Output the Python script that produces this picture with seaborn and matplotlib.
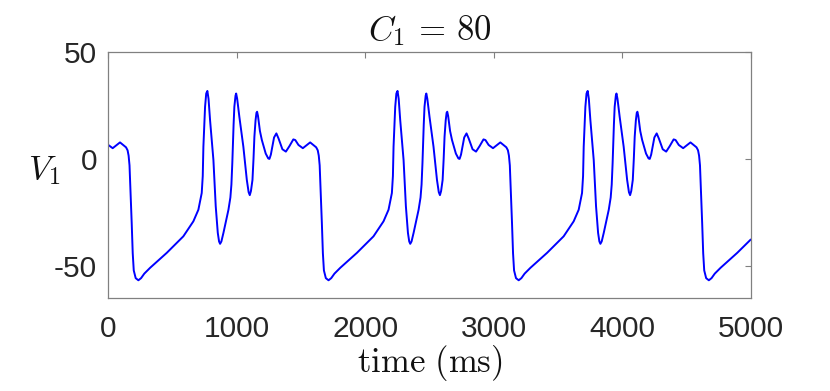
import numpy as np
import pandas as pd
import matplotlib
matplotlib.use('Agg')
import matplotlib.pyplot as plt
import seaborn as sns

# --------------------
# Data read off the picture (one burst cycle, repeated at the observed onsets)
# --------------------
cycle_phase = [0, 34, 91, 138, 150, 158, 165, 172, 182, 190, 198, 213, 234, 255, 280,
               325, 455, 584, 662, 701, 718, 727, 735, 740, 753, 762, 771, 780, 792,
               805, 818, 828, 836, 852, 862, 870, 880, 896, 935, 950, 958, 965, 969,
               975, 981, 990, 995, 1003, 1020, 1051, 1078, 1092, 1101, 1110, 1122,
               1130, 1137, 1146, 1153, 1158, 1165, 1180, 1195, 1225, 1245, 1254, 1265,
               1290, 1308, 1325, 1355, 1382, 1410, 1440, 1455]
cycle_v = [6.5, 5.0, 7.7, 5.4, 4.0, 1.5, -3.0, -14.0, -29.9, -44.0, -52.0, -55.6, -56.6,
           -55.6, -53.5, -50.8, -43.8, -36.1, -29.1, -23.7, -18.5, -15.9, -8.0, 5.7,
           24.3, 30.5, 31.7, 28.0, 18.0, 9.0, -0.5, -12.0, -22.1, -34.5, -38.5, -39.6,
           -38.5, -34.5, -23.7, -18.0, -12.0, -2.0, 5.7, 16.0, 24.3, 29.5, 30.5, 28.0,
           19.6, 5.7, -9.8, -15.5, -16.9, -15.0, -9.8, 0.0, 10.4, 18.0, 21.5, 22.0,
           20.0, 13.0, 8.8, 2.5, 0.2, 0.0, 2.0, 10.0, 11.9, 9.5, 4.5, 3.4, 6.0, 9.1, 8.8]
cycle_starts = [0, 1480, 2960, 4440]
t_end, v_end = 5000, -37.6

xticks = [0, 1000, 2000, 3000, 4000, 5000]
yticks = [-50, 0, 50]

t = np.concatenate([np.array(cycle_phase) + s for s in cycle_starts])
v = np.tile(cycle_v, len(cycle_starts))
keep = t < t_end
df = pd.DataFrame({'time': np.append(t[keep], t_end), 'V1': np.append(v[keep], v_end)})

# --------------------
# Plot
# --------------------
sns.set_style('white')
plt.rcParams['font.family'] = ['Liberation Sans', 'DejaVu Sans']
plt.rcParams['mathtext.fontset'] = 'cm'
plt.rcParams['axes.unicode_minus'] = False

fig = plt.figure(figsize=(8.30, 3.91), dpi=100)
ax = fig.add_axes([0.1305, 0.2371, 0.774, 0.6307])
sns.lineplot(data=df, x='time', y='V1', ax=ax, color='#0000ff', linewidth=1.4,
             estimator=None, sort=False)

ax.set_xlim(0, 5000)
ax.set_ylim(-65, 50)
ax.set_xticks(xticks)
ax.set_yticks(yticks)
ax.tick_params(direction='in', length=4, width=0.8, color='#808080',
               top=True, right=True, labelsize=21.5, labelcolor='#262626')
ax.tick_params(axis='x', pad=12)
ax.tick_params(axis='y', pad=8)
for s in ax.spines.values():
    s.set_visible(True)
    s.set_color('#808080')
    s.set_linewidth(0.9)

ax.set_title(r'$C_1\,=\,80$', fontsize=25, color='#111111', pad=8)
ax.set_xlabel(r'$\mathrm{time\ (ms)}$', fontsize=25, color='#111111', labelpad=0)
ax.set_ylabel(r'$V_1$', fontsize=25, color='#111111', rotation=0)
ax.yaxis.set_label_coords(-0.1, 0.45)

fig.savefig('out.png', dpi=100)
